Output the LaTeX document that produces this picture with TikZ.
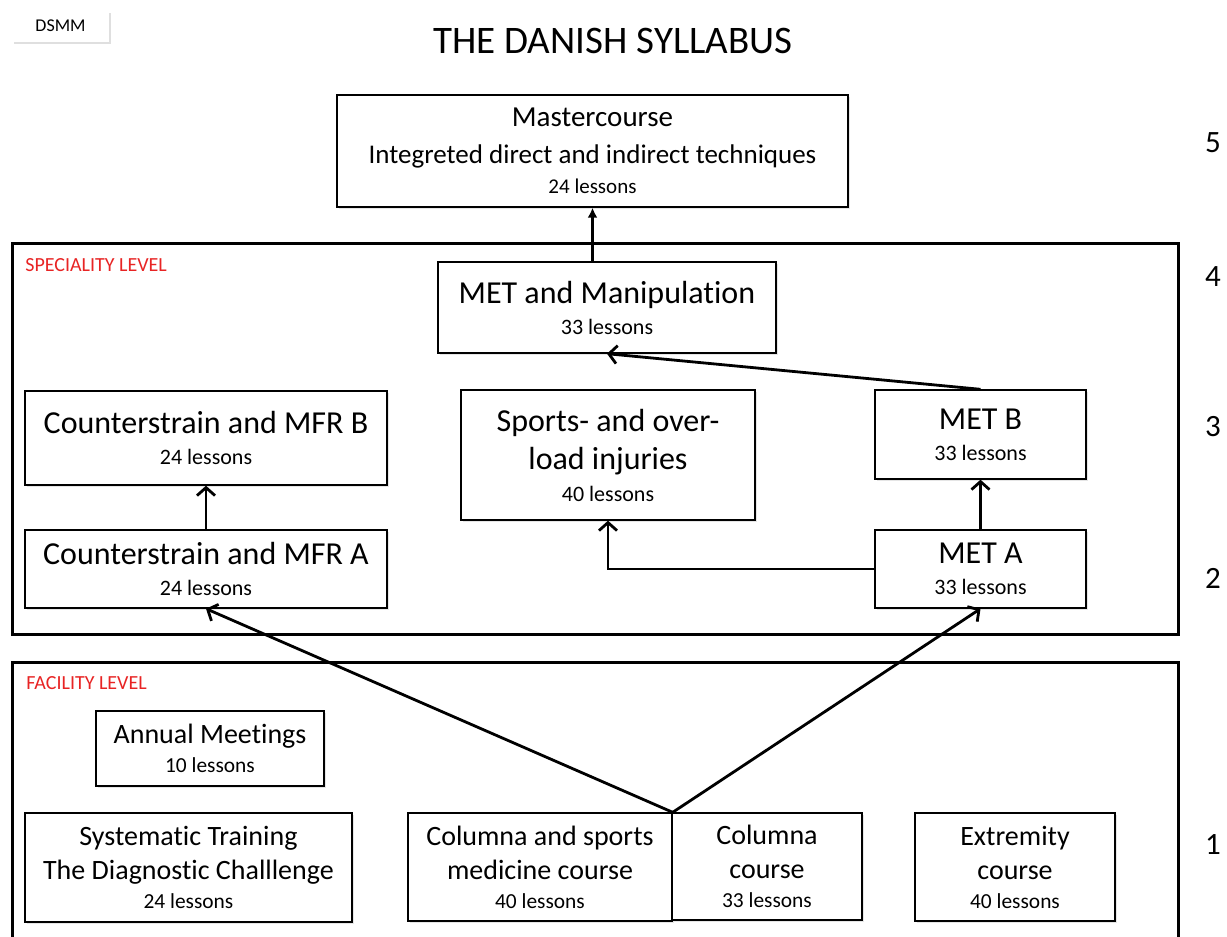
\documentclass[tikz,border=0pt]{standalone}
\usepackage{fontspec}
\setmainfont{Carlito}[Ligatures={NoCommon}]
\usetikzlibrary{arrows.meta,shadows,calc}
\definecolor{lvlred}{RGB}{232,36,36}
\newcommand\lsnA[1]{{\fontsize{11}{13}\selectfont #1}}
\newcommand\lsnB[1]{{\fontsize{10.7}{12.5}\selectfont #1}}
\newcommand\lsnC[1]{{\fontsize{10.5}{12.5}\selectfont #1}}
\begin{document}
\begin{tikzpicture}[x=0.5pt,y=-0.5pt,
  box/.style={draw, line width=0.7pt, fill=white, align=center, inner sep=0pt,
    drop shadow={shadow xshift=1pt, shadow yshift=-1pt, opacity=0.2}},
  spec/.style={box, font=\fontsize{16}{19}\selectfont},
  fac/.style={box, font=\fontsize{14}{17}\selectfont},
  frame/.style={line width=1.5pt},
  varr/.style={line width=1.4pt, -{Straight Barb[length=4pt,width=9pt]}},
  farr/.style={line width=1.4pt, -{Latex[length=5pt,width=5pt]}},
  lvl/.style={text=lvlred, font=\fontsize{10}{12}\selectfont, anchor=west, inner sep=0pt},
  num/.style={font=\fontsize{15.5}{18}\selectfont, inner sep=0pt}]
\useasboundingbox (0,0) rectangle (1227,937);
\fill[white] (0,0) rectangle (1227,937);

% header
\node[fill=white, minimum width=48.5pt, minimum height=15.5pt, inner sep=0pt,
  drop shadow={shadow xshift=1.2pt, shadow yshift=-1.2pt, opacity=0.25},
  font=\fontsize{9}{11}\selectfont] (dsmm) at (60.5,26) {DSMM};
\node[font=\fontsize{19.5}{23}\selectfont, inner sep=0pt] (title) at (613,41) {THE DANISH SYLLABUS};

% frames
\draw[frame] (12,243) rectangle (1178,634);
\draw[frame] (12,938) -- (12,662) -- (1178,662) -- (1178,938);
\node[lvl] (speclbl) at (25,265) {SPECIALITY LEVEL};
\node[lvl] (faclbl) at (26,683) {FACILITY LEVEL};

% level numbers
\node[num] (n5) at (1213,143) {5};
\node[num] (n4) at (1213,277) {4};
\node[num] (n3) at (1213,427) {3};
\node[num] (n2) at (1213,578) {2};
\node[num] (n1) at (1213,845) {1};

% master
\node[box, minimum width=255.5pt, minimum height=56pt, font=\fontsize{13.5}{17}\selectfont] (master) at (592.5,151)
  {{\fontsize{14.5}{17}\selectfont Mastercourse}\\[1.5pt]Integreted direct and indirect techniques\\[-2pt]\lsnC{24 lessons}};

% speciality level
\node[spec, minimum width=169pt, minimum height=45.5pt] (metman) at (607,307.5) {MET and Manipulation\\[-3.5pt]\lsnA{33 lessons}};
\node[spec, minimum width=181pt, minimum height=47pt] (mfrb) at (206,438) {Counterstrain and MFR B\\[-3.5pt]\lsnA{24 lessons}};
\node[spec, minimum width=147pt, minimum height=65pt] (sports) at (608,455) {Sports- and over-\\load injuries\\[-3pt]\lsnA{40 lessons}};
\node[spec, minimum width=105.5pt, minimum height=44.5pt] (metb) at (980.5,434.5) {MET B\\[-3.5pt]\lsnA{33 lessons}};
\node[spec, minimum width=181pt, minimum height=39pt] (mfra) at (206,569) {Counterstrain and MFR A\\[-3.5pt]\lsnA{24 lessons}};
\node[spec, minimum width=105.5pt, minimum height=39pt] (meta) at (980.5,569) {MET A\\[-3.5pt]\lsnA{33 lessons}};

% facility level
\node[fac, minimum width=114pt, minimum height=37.5pt] (annual) at (210,748.5) {Annual Meetings\\[-2.5pt]\lsnB{10 lessons}};
\node[fac, minimum width=163.5pt, minimum height=54.5pt] (syst) at (188.5,867.5) {Systematic Training\\The Diagnostic Challlenge\\[-2.5pt]\lsnB{24 lessons}};
\node[fac, minimum width=132pt, minimum height=54pt] (colsports) at (540,867) {Columna and sports\\medicine course\\[-2.5pt]\lsnB{40 lessons}};
\node[fac, minimum width=95pt, minimum height=53.5pt] (colcourse) at (767,866.5) {Columna\\course\\[-2.5pt]\lsnB{33 lessons}};
\node[fac, minimum width=100pt, minimum height=54pt] (extrem) at (1015,867) {Extremity\\course\\[-2.5pt]\lsnB{40 lessons}};

% connectors
\coordinate (junc) at (colsports.north east);
\draw[farr] (metman.north -| master.south) -- (master.south);
\draw[varr] (metb.north) -- (metman.south);
\draw[varr] (mfra.north) -- (mfrb.south);
\draw[varr] (meta.north) -- (metb.south);
\draw[varr] (meta.west) -| (sports.south);
\draw[varr] (junc) -- (mfra.south);
\draw[varr] (junc) -- (meta.south);
\end{tikzpicture}
\end{document}
